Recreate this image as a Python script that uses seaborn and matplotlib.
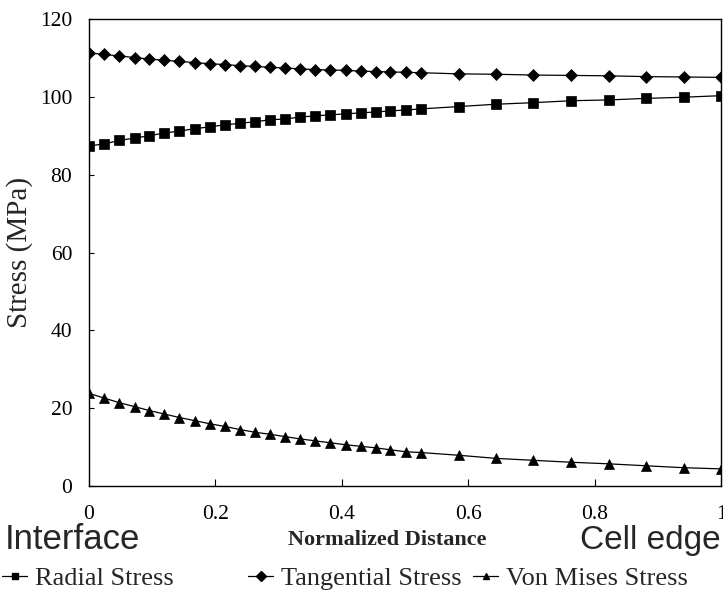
import matplotlib
matplotlib.use("Agg")
import matplotlib.pyplot as plt
import seaborn as sns
import pandas as pd
from matplotlib.lines import Line2D

x_norm = [0.0, 0.024, 0.048, 0.072, 0.095, 0.119, 0.143, 0.167, 0.191, 0.215,
          0.239, 0.263, 0.286, 0.310, 0.334, 0.358, 0.382, 0.406, 0.430, 0.454,
          0.477, 0.501, 0.525, 0.585, 0.644, 0.703, 0.763, 0.822, 0.881, 0.941, 1.0]
radial = [87.4, 87.9, 88.8, 89.4, 90.0, 90.7, 91.2, 91.8, 92.3, 92.8,
          93.2, 93.6, 94.1, 94.3, 94.8, 95.1, 95.4, 95.6, 95.9, 96.1,
          96.4, 96.6, 96.9, 97.5, 98.1, 98.5, 99.0, 99.2, 99.6, 99.9, 100.3]
tangential = [111.3, 110.9, 110.5, 110.1, 109.7, 109.4, 109.1, 108.8, 108.5, 108.3,
              108.0, 107.8, 107.6, 107.4, 107.2, 107.0, 106.9, 106.8, 106.6, 106.5,
              106.4, 106.3, 106.2, 105.9, 105.8, 105.6, 105.5, 105.4, 105.2, 105.1, 105.0]
von_mises = [23.8, 22.6, 21.4, 20.4, 19.4, 18.5, 17.6, 16.8, 16.0, 15.3,
             14.5, 13.8, 13.3, 12.7, 12.1, 11.6, 11.1, 10.6, 10.2, 9.8,
             9.3, 8.8, 8.6, 7.9, 7.1, 6.6, 6.1, 5.7, 5.2, 4.7, 4.4]
series_names = ["Radial Stress", "Tangential Stress", "Von Mises Stress"]
x_ticks = [0, 0.2, 0.4, 0.6, 0.8, 1]
x_tick_labels = ["0", "0.2", "0.4", "0.6", "0.8", "1"]
y_ticks = [0, 20, 40, 60, 80, 100, 120]

sns.set_style("white")
plt.rcParams["font.family"] = ["Liberation Serif", "DejaVu Serif"]

fig = plt.figure(figsize=(7.23, 5.92), dpi=100)
ax = fig.add_axes([89/723, 1-486/592, (721-89)/723, (486-19)/592])

markers = ["s", "D", "^"]
msizes = [6.5, 6.0, 7.0]
for name, vals, mk, ms in zip(series_names, [radial, tangential, von_mises], markers, msizes):
    df = pd.DataFrame({"x": x_norm, "y": vals})
    sns.lineplot(data=df, x="x", y="y", ax=ax, color="black", linewidth=0.9,
                 marker=mk, markersize=ms, markeredgecolor="black",
                 markerfacecolor="black", markeredgewidth=0.5)

ax.set_xlim(0, 1)
ax.set_ylim(0, 120)
ax.set_xticks(x_ticks)
ax.set_xticklabels(x_tick_labels)
ax.set_yticks(y_ticks)
for s in ax.spines.values():
    s.set_color("black")
    s.set_linewidth(1.0)
ax.tick_params(axis="x", direction="in", length=5, width=0.8, pad=14, labelsize=15.5,
               bottom=True, top=False, colors="black")
ax.tick_params(axis="y", direction="in", length=3.5, width=0.8, pad=12, labelsize=15.5,
               left=True, right=False, colors="black")
ax.set_xlabel("")
ax.set_ylabel("Stress (MPa)", fontsize=21, labelpad=5)

fig.text(5/723, 1-549/592, "Interface", family=["Liberation Sans"], fontsize=25,
         ha="left", va="baseline")
fig.text(721/723, 1-549/592, "Cell edge", family=["Liberation Sans"], fontsize=24,
         ha="right", va="baseline")
fig.text(387/723, 1-545/592, "Normalized Distance", fontsize=16, fontweight="bold",
         ha="center", va="baseline")

handle_x = [2, 248, 473]
for name, mk, hx in zip(series_names, markers, handle_x):
    h = Line2D([], [], color="black", linewidth=0.9, marker=mk, markersize=5,
               markerfacecolor="black")
    fig.legend(handles=[h], labels=[name], loc="center left",
               bbox_to_anchor=(hx/723, 1-578/592), frameon=False, fontsize=19,
               handlelength=0.95, handletextpad=0.3, borderpad=0, borderaxespad=0)

fig.savefig("out.png", dpi=100)
